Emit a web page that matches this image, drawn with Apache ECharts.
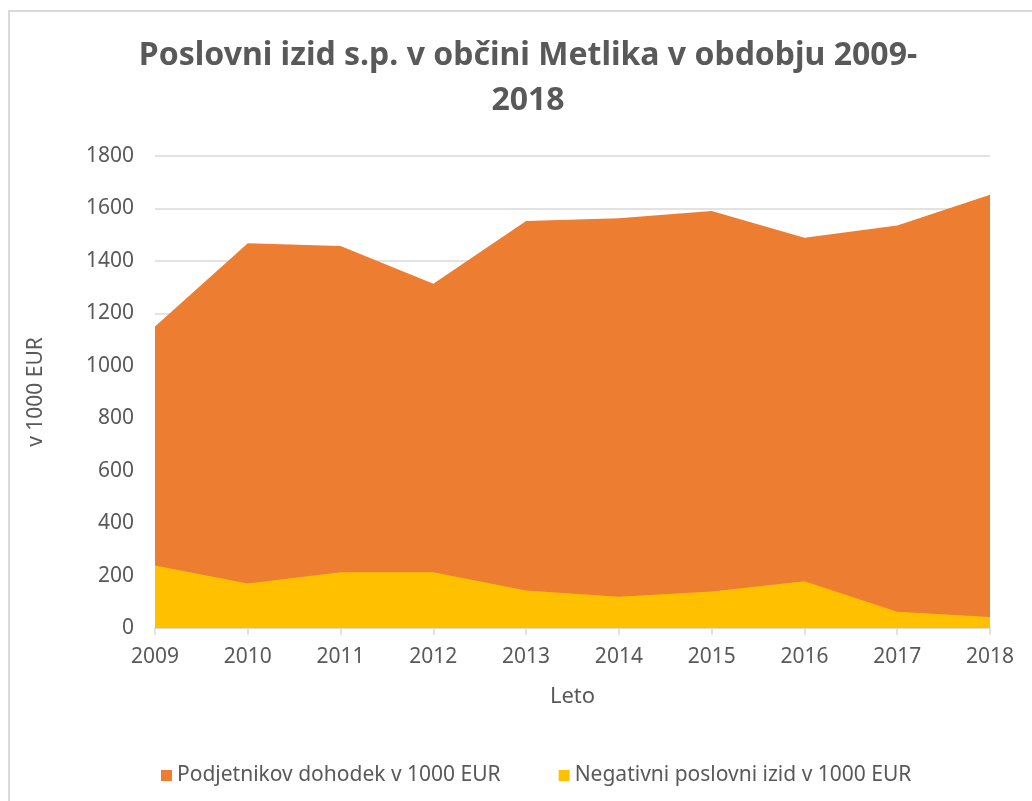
<!DOCTYPE html>
<html>
<head>
<meta charset="utf-8">
<script src="https://cdn.jsdelivr.net/npm/echarts@6/dist/echarts.min.js"></script>
<style>
    html, body { margin: 0; padding: 0; background: #fff; }
    #chart { width: 1032px; height: 801px; }
</style>
</head>
<body>
<div id="chart"></div>
<script>
// leta in vrednosti (v 1000 EUR), odčitano z grafa
const years = ['2009', '2010', '2011', '2012', '2013', '2014', '2015', '2016', '2017', '2018']
const dohodek = [1150, 1467, 1457, 1313, 1552, 1563, 1590, 1488, 1535, 1652]
const negativni = [238, 170, 213, 213, 143, 119, 139, 178, 62, 42]

const seriesNames = ['Podjetnikov dohodek v 1000 EUR', 'Negativni poslovni izid v 1000 EUR']
const fontName = 'Noto Sans'
const grey = '#595959'

const chart = echarts.init(document.getElementById('chart'))

const option = {
    animation: false,
    textStyle: { fontFamily: fontName },
    graphic: [
        {
            type: 'rect',
            shape: { x: 9, y: 11, width: 1100, height: 900 },
            style: { fill: 'none', stroke: '#d9d9d9', lineWidth: 2 },
            silent: true
        }
    ],
    title: {
        text: 'Poslovni izid s.p. v občini Metlika v obdobju 2009-\n2018',
        left: 523,
        textAlign: 'center',
        top: 28,
        textStyle: {
            fontFamily: fontName,
            fontSize: 32,
            fontWeight: 'bold',
            color: grey,
            lineHeight: 45
        }
    },
    legend: {
        data: seriesNames,
        left: 156,
        top: 760,
        icon: 'rect',
        itemWidth: 11,
        itemHeight: 11,
        itemGap: 58,
        textStyle: { fontFamily: fontName, fontSize: 21, color: grey }
    },
    grid: {
        left: 155,
        right: 42,
        top: 156,
        bottom: 173,
        containLabel: false
    },
    xAxis: {
        type: 'category',
        data: years,
        boundaryGap: false,
        name: 'Leto',
        nameLocation: 'middle',
        nameGap: 58,
        nameTextStyle: { fontFamily: fontName, fontSize: 22, color: grey },
        axisLine: { lineStyle: { color: '#d9d9d9', width: 1.5 } },
        axisTick: { show: true, length: 7, lineStyle: { color: '#d9d9d9', width: 1.5 } },
        axisLabel: { fontFamily: fontName, fontSize: 21, color: grey, margin: 19 }
    },
    yAxis: {
        type: 'value',
        min: 0,
        max: 1800,
        interval: 200,
        name: 'v 1000 EUR',
        nameLocation: 'middle',
        nameGap: 108,
        nameTextStyle: { fontFamily: fontName, fontSize: 21, color: grey },
        axisLine: { show: false },
        axisTick: { show: false },
        axisLabel: {
            fontFamily: fontName,
            fontSize: 21,
            color: grey,
            margin: 21,
            formatter: function (v) { return String(v) }
        },
        splitLine: { lineStyle: { color: '#d9d9d9', width: 1.5 } }
    },
    series: [
        {
            name: seriesNames[0],
            type: 'line',
            data: dohodek,
            symbol: 'none',
            lineStyle: { width: 0 },
            itemStyle: { color: '#ED7D31' },
            areaStyle: { color: '#ED7D31', opacity: 1 },
            z: 2
        },
        {
            name: seriesNames[1],
            type: 'line',
            data: negativni,
            symbol: 'none',
            lineStyle: { width: 0 },
            itemStyle: { color: '#FFC000' },
            areaStyle: { color: '#FFC000', opacity: 1 },
            z: 3
        }
    ]
}

chart.setOption(option)
</script>
</body>
</html>
